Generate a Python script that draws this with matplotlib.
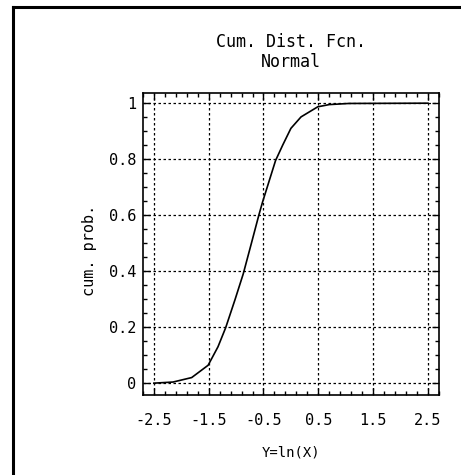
import numpy as np
import matplotlib
matplotlib.use('Agg')
import matplotlib.pyplot as plt
from matplotlib.lines import Line2D
from matplotlib.ticker import FixedLocator, MultipleLocator

plt.rcParams['font.family'] = ['DejaVu Sans Mono', 'DejaVu Sans']

# cumulative distribution curve, Y = ln(X)
y_vals = [-2.5, -2.15, -1.81, -1.51, -1.33, -1.19, -1.02, -0.87, -0.72,
          -0.585, -0.52, -0.28, -0.15, 0.0, 0.185, 0.49, 0.7, 1.06, 2.5]
cum_prob = [0.0, 0.004, 0.02, 0.064, 0.13, 0.198, 0.298, 0.39, 0.50,
            0.60, 0.645, 0.795, 0.85, 0.91, 0.951, 0.987, 0.995, 0.999, 1.0]

xticks = [-2.5, -1.5, -0.5, 0.5, 1.5, 2.5]
xtick_labels = ['-2.5', '-1.5', '-0.5', '0.5', '1.5', '2.5']
yticks = [0, 0.2, 0.4, 0.6, 0.8, 1.0]
ytick_labels = ['0', '0.2', '0.4', '0.6', '0.8', '1']

fig = plt.figure(figsize=(4.61, 4.75), dpi=100)
ax = fig.add_axes([0.310, 0.168, 0.642, 0.636])

ax.plot(y_vals, cum_prob, color='black', lw=1.2)

ax.set_xlim(-2.7, 2.7)
ax.set_ylim(-0.043, 1.036)

ax.xaxis.set_major_locator(FixedLocator(xticks))
ax.set_xticklabels(xtick_labels)
ax.yaxis.set_major_locator(FixedLocator(yticks))
ax.set_yticklabels(ytick_labels)
ax.xaxis.set_minor_locator(MultipleLocator(0.2, offset=0.1))
ax.yaxis.set_minor_locator(MultipleLocator(0.05))

ax.tick_params(which='both', direction='in', top=True, right=True,
               width=1, labelsize=11)
ax.tick_params(which='major', length=5)
ax.tick_params(which='minor', length=3)
ax.tick_params(axis='x', pad=13)
ax.tick_params(axis='y', pad=5)

ax.grid(True, which='major', color='black', lw=0.9, linestyle=(0, (2, 2)))

for s in ax.spines.values():
    s.set_linewidth(1.2)

ax.set_title('Cum. Dist. Fcn.\nNormal', fontsize=12, pad=19, linespacing=1.1)
ax.set_xlabel('Y=ln(X)', fontsize=10)
ax.xaxis.set_label_coords(0.5, -0.166)
ax.set_ylabel('cum. prob.', fontsize=11)
ax.yaxis.set_label_coords(-0.155, 0.48)

# page border lines on left and top
fig.add_artist(Line2D([13/461, 13/461], [0, 1 - 7/475], color='black', lw=2.2))
fig.add_artist(Line2D([13/461, 1], [1 - 7/475, 1 - 7/475], color='black', lw=2.2))

fig.savefig('out.png', dpi=100)
